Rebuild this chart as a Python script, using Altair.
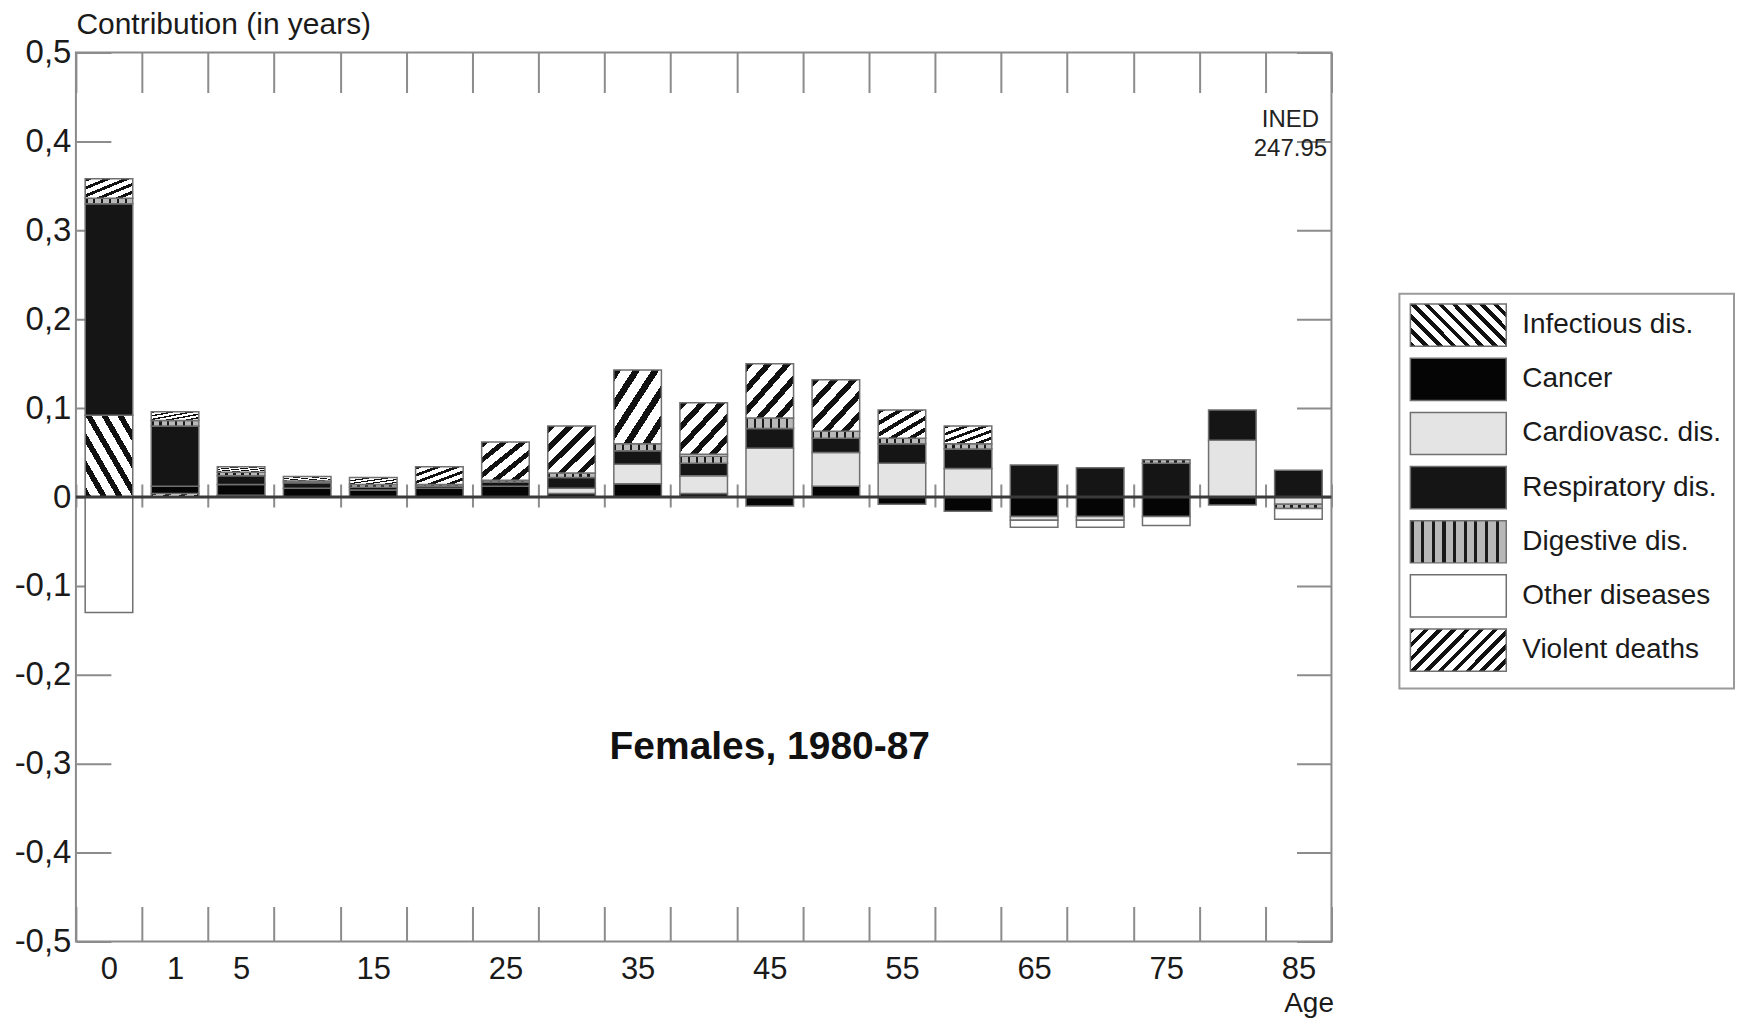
import altair as alt
import pandas as pd

# ---------------- data ----------------
AGES = ["0", "1", "5", "10", "15", "20", "25", "30", "35", "40",
        "45", "50", "55", "60", "65", "70", "75", "80", "85"]
SHOWN_AGE_LABELS = ["0", "1", "5", "15", "25", "35", "45", "55", "65", "75", "85"]
CAUSES = ["Infectious dis.", "Cancer", "Cardiovasc. dis.", "Respiratory dis.",
          "Digestive dis.", "Other diseases", "Violent deaths"]

INFECTIOUS = [0.092, 0.004, 0.002, 0, 0, 0, 0, 0, 0, 0,
              0, 0, 0, 0, 0, 0, 0, 0, 0]
CANCER = [0, 0.008, 0.012, 0.010, 0.008, 0.010, 0.012, 0.004, 0.015, 0.004,
          -0.010, 0.012, -0.008, -0.016, -0.022, -0.022, -0.022, -0.009, 0]
CARDIOVASC = [0, 0, 0, 0, 0, 0, 0, 0.006, 0.022, 0.020,
              0.055, 0.038, 0.038, 0.032, -0.004, -0.004, 0, 0.064, -0.008]
RESPIRATORY = [0.238, 0.068, 0.010, 0.006, 0.003, 0.002, 0.005, 0.012, 0.015, 0.014,
               0.022, 0.016, 0.022, 0.022, 0.036, 0.033, 0.038, 0.034, 0.030]
DIGESTIVE = [0.006, 0.006, 0.004, 0.002, 0.003, 0.002, 0.002, 0.005, 0.008, 0.008,
             0.012, 0.008, 0.006, 0.006, 0, 0, 0.004, 0, -0.005]
OTHER = [-0.130, 0, 0, 0, 0, 0, 0, 0, 0, 0.002,
         0, 0, 0, 0, -0.008, -0.008, -0.010, 0, -0.012]
VIOLENT = [0.022, 0.010, 0.006, 0.005, 0.008, 0.020, 0.043, 0.053, 0.083, 0.058,
           0.061, 0.058, 0.032, 0.020, 0, 0, 0, 0, 0]

SERIES = [INFECTIOUS, CANCER, CARDIOVASC, RESPIRATORY, DIGESTIVE, OTHER, VIOLENT]
Y_TICKS = [-0.5, -0.4, -0.3, -0.2, -0.1, 0, 0.1, 0.2, 0.3, 0.4, 0.5]

PANEL_TEXT = ["Females, 1980-87"]
PANEL_TEXT_AGE = ["45"]
PANEL_TEXT_Y = [-0.281]
SOURCE_TEXT = ["INED\n247.95"]
SOURCE_TEXT_AGE = ["85"]
SOURCE_TEXT_Y = [0.424]

rows = []
for i, (cause, vals) in enumerate(zip(CAUSES, SERIES)):
    for age, v in zip(AGES, vals):
        rows.append({"age": age, "cause": cause, "ord": i, "value": v})
df = pd.DataFrame(rows)

legend_df = pd.DataFrame({"cause": CAUSES, "row": list(range(len(CAUSES)))})

# ---------------- styles ----------------
FONT = "Liberation Sans"
W, H = 1257, 890
GRID = "#8c8c8c"
EDGE = "#707070"


def stripes(n, fg, bg, x1, y1, x2, y2, duty=0.4):
    stops = []
    for k in range(n):
        a = round(k / n, 4)
        b = round((k + duty) / n, 4)
        c = round((k + 1) / n, 4)
        stops += [{"offset": a, "color": fg}, {"offset": b, "color": fg},
                  {"offset": b, "color": bg}, {"offset": c, "color": bg}]
    return {"gradient": "linear", "x1": x1, "y1": y1, "x2": x2, "y2": y2, "stops": stops}


BAR_FILLS = {
    "Infectious dis.": stripes(6, "#111111", "#ffffff", 0, 1, 1, 0),
    "Cancer": "#050505",
    "Cardiovasc. dis.": "#e4e4e4",
    "Respiratory dis.": "#151515",
    "Digestive dis.": stripes(6, "#1a1a1a", "#b8b8b8", 0, 0, 1, 0, duty=0.3),
    "Other diseases": "#ffffff",
    "Violent deaths": stripes(5, "#111111", "#ffffff", 0, 0, 1, 1),
}
LEGEND_FILLS = {
    "Infectious dis.": stripes(10, "#111111", "#ffffff", 0, 1, 1.2066, 0.472),
    "Cancer": "#050505",
    "Cardiovasc. dis.": "#e4e4e4",
    "Respiratory dis.": "#151515",
    "Digestive dis.": stripes(9, "#1a1a1a", "#b8b8b8", 0, 0, 1, 0, duty=0.3),
    "Other diseases": "#ffffff",
    "Violent deaths": stripes(10, "#111111", "#ffffff", 0, 0, 1.2066, 0.528),
}


def fill_for(fills):
    conds = [{"test": f"datum.cause === '{c}'", "value": g} for c, g in fills.items()]
    return alt.value("#ffffff", condition=conds)


shown = ",".join(f"'{a}'" for a in SHOWN_AGE_LABELS)
x_scale = alt.Scale(domain=AGES, paddingInner=0, paddingOuter=0)
y_scale = alt.Scale(domain=[-0.5, 0.5], nice=False, zero=False)

bars = alt.Chart(df).transform_filter("datum.value != 0").mark_bar(
    width=alt.RelativeBandSize(band=0.72), stroke=EDGE, strokeWidth=1.5
).encode(
    x=alt.X("age:N", sort=AGES, scale=x_scale, axis=alt.Axis(
        labelExpr=f"indexof([{shown}], datum.label) >= 0 ? datum.label : ''",
        labelAngle=0, ticks=False, domain=False, grid=True, tickBand="extent",
        gridDash=[40, 392, 23, 400, 35, 0], gridColor=GRID, gridWidth=2,
        labelPadding=13, labelFontSize=31, labelColor="#1a1a1a",
        title="Age", titleAnchor="end", titleAlign="right", titleX=W + 2, titleY=70,
        titleBaseline="alphabetic", titleFontSize=28, titleFontWeight="normal",
        titleColor="#1a1a1a")),
    y=alt.Y("value:Q", stack="zero", scale=y_scale, axis=alt.Axis(
        values=Y_TICKS,
        labelExpr="datum.value == 0 ? '0' : (datum.value < 0 ? '-' : '') + '0,' + round(abs(datum.value) * 10)",
        grid=True, gridDash=[35, W - 70, 35, 0], gridColor=GRID, gridWidth=2,
        ticks=False, domain=False, labelPadding=5, labelFontSize=33, labelColor="#1a1a1a",
        title="Contribution (in years)", titleAngle=0, titleAlign="left",
        titleBaseline="middle", titleX=0, titleY=-28, titleFontSize=30,
        titleFontWeight="normal", titleColor="#1a1a1a")),
    fill=fill_for(BAR_FILLS),
    order=alt.Order("ord:Q", sort="ascending"),
)

zero_line = alt.Chart(pd.DataFrame({"z": [0]})).mark_rule(
    color="#3a3a3a", strokeWidth=3
).encode(y=alt.datum(0))

panel_text = alt.Chart(pd.DataFrame({"t": PANEL_TEXT, "age": PANEL_TEXT_AGE, "y": PANEL_TEXT_Y})).mark_text(
    fontSize=39, fontWeight="bold", color="#111111", baseline="middle"
).encode(x=alt.datum(PANEL_TEXT_AGE[0]), y=alt.datum(PANEL_TEXT_Y[0]), text="t:N")

source_text = alt.Chart(pd.DataFrame({"t": SOURCE_TEXT})).mark_text(
    fontSize=24, color="#222222", baseline="middle", align="center",
    lineBreak="\n", lineHeight=29, dx=-8
).encode(x=alt.datum(SOURCE_TEXT_AGE[0]), y=alt.datum(SOURCE_TEXT_Y[0]), text="t:N")

main = alt.layer(bars, zero_line, panel_text, source_text).properties(
    width=W, height=H, view=alt.ViewBackground(stroke="#8a8a8a", strokeWidth=2)
)

# ---------------- hand-built legend (patterned swatches) ----------------
leg_y = alt.Scale(domain=[-5.037, 11.384], reverse=True, nice=False, zero=False)
LEG_W = 335

leg_box = alt.Chart(pd.DataFrame({"b": [0]})).mark_rect(
    fillOpacity=0, stroke="#9a9a9a", strokeWidth=2
).encode(x=alt.value(0), x2=alt.value(LEG_W),
         y=alt.datum(-0.58, scale=leg_y, axis=None), y2=alt.datum(6.71))

leg_sw = alt.Chart(legend_df).transform_calculate(
    y0="datum.row - 0.39", y1="datum.row + 0.39"
).mark_rect(stroke=EDGE, strokeWidth=1.5).encode(
    x=alt.value(11), x2=alt.value(107),
    y=alt.Y("y0:Q", scale=leg_y, axis=None), y2="y1:Q",
    fill=fill_for(LEGEND_FILLS),
)

leg_txt = alt.Chart(legend_df).mark_text(
    align="left", baseline="middle", fontSize=28, color="#1a1a1a"
).encode(x=alt.value(123), y=alt.Y("row:Q", scale=leg_y, axis=None), text="cause:N")

legend = alt.layer(leg_box, leg_sw, leg_txt).properties(
    width=LEG_W, height=H, view=alt.ViewBackground(stroke="transparent")
)

chart = alt.hconcat(main, legend, spacing=68, bounds="flush").properties(
    padding={"left": 5, "top": 0, "right": 0, "bottom": 0}
).configure(font=FONT).configure_text(font=FONT)

chart.save("out.html", embed_options={"renderer": "svg", "actions": False})
